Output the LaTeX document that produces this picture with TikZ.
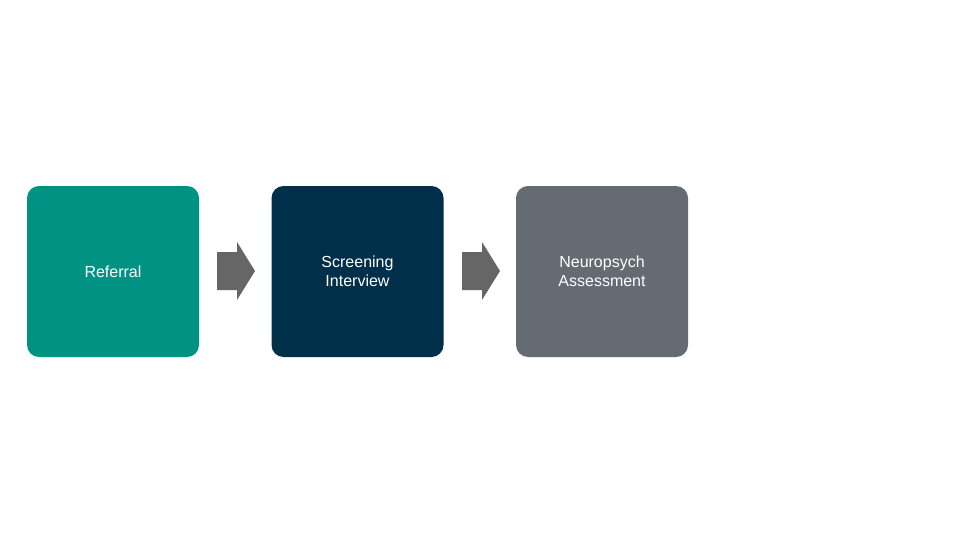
\documentclass[tikz,border=0pt]{standalone}
\usepackage{fontspec}
\setmainfont{Liberation Sans}
\definecolor{teal1}{HTML}{009383}
\definecolor{navy1}{HTML}{003049}
\definecolor{grey1}{HTML}{646B73}
\definecolor{arr}{HTML}{666666}
\begin{document}
\begin{tikzpicture}[x=1pt,y=-1pt,
 box/.style={rounded corners=12pt,minimum width=172pt,minimum height=171pt,text=white,align=center,font=\fontsize{16}{19}\selectfont,inner sep=0pt},
 ar/.style={fill=arr}]
\useasboundingbox (0,0) rectangle (960,540);
\node[box,fill=teal1] (a) at (113,271.5) {Referral};
\node[box,fill=navy1] (b) at (357.5,271.5) {Screening\\Interview};
\node[box,fill=grey1] (c) at (602,271.5) {Neuropsych\\Assessment};
\fill[ar] (217,252) -- (237,252) -- (237,242) -- (255,271) -- (237,300) -- (237,290) -- (217,290) -- cycle;
\fill[ar] (462,252) -- (482,252) -- (482,242) -- (500,271) -- (482,300) -- (482,290) -- (462,290) -- cycle;
\end{tikzpicture}
\end{document}
